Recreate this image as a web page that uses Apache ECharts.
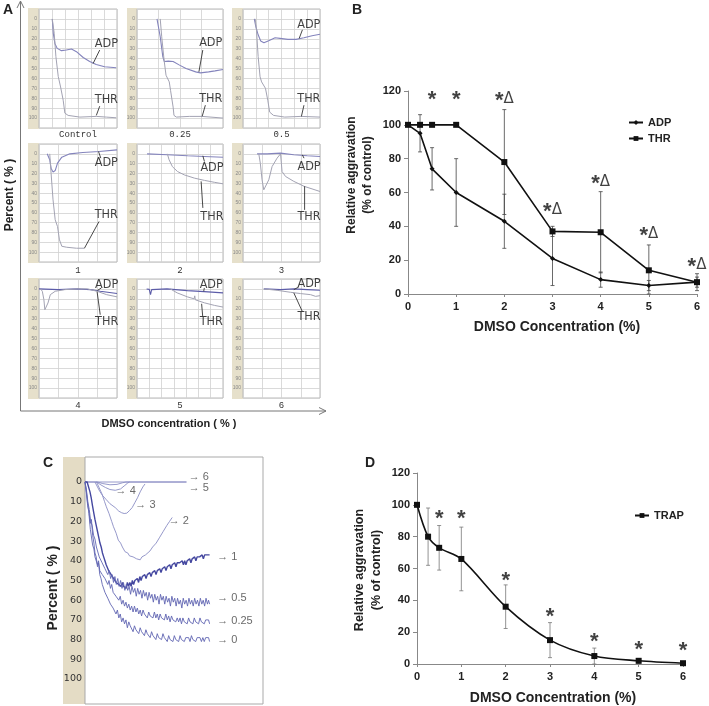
<!DOCTYPE html>
<html><head><meta charset="utf-8">
<script src="https://cdn.jsdelivr.net/npm/echarts@6/dist/echarts.min.js"></script>
<style>html,body{margin:0;padding:0;background:#fff}#c{width:709px;height:706px}</style>
</head><body><div id="c"></div>
<script>
// ================= DATA =================
// ---- Panel A: nine aggregation traces (x = grid column, y = percent) ----
const aNames = ['Control','0.25','0.5','1','2','3','4','5','6'];
const aCols = [6,4,6,4,7,4,4,7,4];
const aTicks = [0,10,20,30,40,50,60,70,80,90,100];

const aCtrlADP = [[1.02,0],[1.1,14.5],[1.22,24.7],[1.4,29.7],[1.73,32],[2.1,31.4],[2.5,30.4],[2.88,33],[3.4,38.9],[3.9,43],[4.4,46],[5.05,48.3],[5.94,49.3]];
const aCtrlTHR = [[1.02,0],[1.17,14.5],[1.3,38],[1.48,58],[1.66,68.6],[1.79,70],[1.86,82],[1.99,95],[2.24,97.3],[3.14,99],[4.41,98.3],[5.18,99],[5.94,99.7]];
const aCtrlLab = [[5.18,24.7],[5.18,82]];
const aCtrlLead = [[[4.67,31.4],[4.16,45]],[[4.67,88],[4.41,97.3]]];

const a025ADP = [[0.93,0],[1.08,18],[1.2,38],[1.27,43],[1.45,42.6],[1.68,43],[1.98,46.6],[2.28,50],[2.73,53.4],[2.95,54.4],[3.33,53.4],[3.63,52.4],[4,51]];
const a025THR = [[1.08,0],[1.15,18],[1.26,41.6],[1.35,56.8],[1.5,63.5],[1.56,72],[1.68,88.9],[1.72,97.3],[1.83,99],[2.43,98.3],[3.03,98.3],[4,100]];
const a025Lab = [[3.43,24],[3.43,81]];
const a025Lead = [[[3.06,31.4],[2.88,53.4]],[[3.18,87],[3.03,98.3]]];

const a05ADP = [[0.88,0],[1,7.8],[1.18,16],[1.38,22.3],[1.63,24],[2,22],[2.5,19],[2.88,19.6],[3.5,20.6],[4.13,20.6],[4.75,19],[5.38,17],[6,15.5]];
const a05THR = [[0.95,0],[1.05,11],[1.18,38],[1.33,58.4],[1.45,63.5],[1.75,70],[1.93,82],[2.08,94],[2.38,97.3],[3.25,99],[4.5,98.3],[6,99]];
const a05Lab = [[5.13,6],[5.13,81]];
const a05Lead = [[[4.63,11],[4.38,19.6]],[[4.75,87],[4.55,98.3]]];

const a1ADP = [[0.42,0],[0.55,6],[0.62,14.6],[0.72,18.6],[0.83,17],[0.95,9.5],[1.17,3.4],[1.58,0],[2.25,-1.4],[3.08,-2.4],[4,-4]];
const a1THR = [[0.55,0],[0.62,19.7],[0.72,46.8],[0.83,67],[0.95,74],[1.05,87.5],[1.17,94],[1.42,95],[1.92,96],[2.33,96]];
const a1Lab = [[3.45,9.5],[3.45,62]];
const a1Lead = [[[3.17,4.4],[3.05,-2.4]],[[3.08,68.8],[2.33,96]]];

const a2ADP = [[0.82,0],[2.47,1],[4.12,2],[5.49,2.7],[7,3.4]];
const a2THR = [[2.47,0],[2.61,6],[2.88,13],[3.3,18],[3.85,21.4],[4.67,24.7],[5.49,27],[6.32,29],[7,30.5]];
const a2Lab = [[6.1,14.6],[6.1,64.4]];
const a2Lead = [[[5.49,7.8],[5.36,2]],[[5.36,55],[5.22,28]]];

const a3ADP = [[0.73,0],[1.25,0],[1.95,-0.7],[2.64,1],[3.34,2],[4,2.7]];
const a3THR = [[0.82,0],[0.9,9.5],[0.99,26.4],[1.08,36.6],[1.17,38.3],[1.34,26.4],[1.51,13],[1.77,4.4],[1.95,0],[2.03,18],[2.21,23],[2.64,28],[3.17,33],[4,38.3]];
const a3Lab = [[3.43,13],[3.43,64.4]];
const a3Lead = [[[3.17,4.4],[3.08,1]],[[3.2,57],[3.2,33]]];

const a4ADP = [[0,0],[0.99,0.7],[1.98,0],[2.64,0.7],[3.14,2.4],[4,4.7]];
const a4THR = [[0.08,0],[0.17,2.4],[0.25,10.8],[0.3,21],[0.36,22.7],[0.46,14.2],[0.58,5.8],[0.83,2.4],[1.32,0.7],[1.98,0],[2.48,0],[2.98,2.4],[3.47,5.8],[4,8]];
const a4Lab = [[3.47,-4.4],[3.47,33]];
const a4Lead = [[[3.2,-1],[3.0,1.5]],[[3.14,26],[2.98,3]]];

const a5ADP = [[0.78,0],[1,0.5],[1.1,5.8],[1.19,0.7],[2.44,0],[4.1,1.7],[5.48,2.7],[7,4]];
const a5THR = [[2.71,0],[3.27,4],[4.1,8],[4.65,10],[4.7,7],[4.75,11],[5.48,14],[6.3,16.6],[7,18.3]];
const a5Lab = [[6.04,-4.4],[6.04,33]];
const a5Lead = [[[5.48,-1],[5.43,2.4]],[[5.35,28],[5.26,15]]];

const a6ADP = [[1.08,0],[1.95,0.7],[2.64,0],[3.34,0.7],[4,1.4]];
const a6THR = [[1.08,0],[1.77,1.4],[2.47,3.4],[2.99,4.7],[3.51,5.8],[3.77,7.5],[4,6.8]];
const a6Lab = [[3.43,-5.4],[3.43,27.8]];
const a6Lead = [[[2.9,-2],[2.64,0.7]],[[3.08,22.7],[2.64,4]]];

// ---- Panel B ----
const bX = [0,0.25,0.5,1,2,3,4,5,6];
const bADP = [100,95,74,60,43,21,8.5,5,7];
const bADPErr = [0,11,12.5,20,16,16,4.5,3,3];
const bTHR = [100,100,100,100,78,37,36.5,14,7];
const bTHRErr = [0,0,0,0,31,3,24,15,5];
const bMarkX = [0.5,1,2,3,4,5,6];
const bMarkY = [117.5,117.5,116.5,51,67.6,37,18.6];
const bMarkTxt = ['*','*','*Δ','*Δ','*Δ','*Δ','*Δ'];

// ---- Panel C: traces per concentration (x = time units, y = percent) ----
const cNames = ['6','5','4','3','2','1','0.5','0.25','0'];
const c6 = [[0,0],[57,0]];
const c5 = [[0,0],[7,0],[10,0.8],[14,1.4],[18,1.2],[21,0.4],[23,0],[57,0]];
const c4 = [[6.5,0],[9,1.5],[11.5,2.8],[14,3.8],[17,4.2],[20,3.5],[22,2],[24,0.5],[25,0]];
const c3 = [[5.6,0],[7,2.5],[8.4,4.9],[10,7],[12,9],[14,11],[17,13],[19,14.8],[20.6,15.6],[22,16],[23.5,15.8],[25,14.5],[26.5,13],[28,10.5],[29.5,8],[31,5],[32.5,2.5],[33.7,1]];
const c2 = [[6.5,0],[8,3],[9.5,6],[11,10],[12,12.6],[13.5,16],[15,20],[16,22.7],[17.5,26],[18.7,29.5],[20,31],[21,33],[22.5,35.4],[24,36],[25,37.5],[26,36.5],[27,38],[28,37],[29,39],[30,38],[31,39.5],[32,38],[33,38.5],[34,37],[35,36.5],[36.5,35],[38,33],[40,31],[42,28],[44,25],[46,22],[47.5,20],[49,18]];
const c1 = [[0,0],[1.2,0],[2,1],[2.8,5],[3.5,8],[4.2,12],[5,16],[5.6,19],[6.3,22],[7,25],[7.7,28],[8.4,31],[9.1,33],[9.8,36],[10.5,38],[11.2,40],[11.9,42],[12.6,43],[13.3,45],[14,45],[14.7,47],[15.4,47],[16.1,49],[16.8,49],[17.5,51],[18.2,50],[18.9,52],[19.6,51],[20.3,53],[21,51],[21.7,53],[22.4,52],[23.1,54],[23.8,51],[24.5,53],[25.2,51],[25.9,53],[26.6,50],[27.3,52],[28,50],[28.7,51],[29.4,49],[30.1,51],[30.8,48],[31.5,50],[32.2,48],[32.9,49],[33.6,47],[34.3,49],[35,47],[35.7,48],[36.4,46],[37.1,48],[37.8,46],[38.5,47],[39.2,45],[39.9,47],[40.6,45],[41.3,46],[42,44],[42.7,46],[43.4,44],[44.1,45],[44.8,43],[45.5,45],[46.2,43],[46.9,44],[47.6,42],[48.3,44],[49,42],[49.7,43],[50.4,41],[51.1,43],[51.8,41],[52.5,42],[53.2,41],[53.9,42],[54.6,40],[55.3,42],[56,40],[56.7,42],[57.4,40],[58.1,41],[58.8,39],[59.5,41],[60.2,39],[60.9,40],[61.6,38],[62.3,40],[63,38],[63.7,39],[64.4,38],[65.1,39],[65.8,37],[66.5,39],[67.2,37],[67.9,38],[68.6,37],[69.3,38],[70,37]];
const c05 = [[0,0],[0.8,4],[1.6,10],[2.4,14],[3.2,20],[4,22],[4.8,27],[5.6,29],[6.4,33],[7.2,34],[8,38],[8.8,37],[9.6,41],[10.4,40],[11.2,44],[12,43],[12.8,47],[13.6,45],[14.4,49],[15.2,47],[16,51],[16.8,48],[17.6,52],[18.4,49],[19.2,53],[20,50],[20.8,54],[21.6,51],[22.4,55],[23.2,52],[24,55],[24.8,53],[25.6,57],[26.4,53],[27.2,56],[28,54],[28.8,58],[29.6,54],[30.4,57],[31.2,55],[32,59],[32.8,55],[33.6,58],[34.4,56],[35.2,60],[36,56],[36.8,59],[37.6,57],[38.4,61],[39.2,57],[40,60],[40.8,58],[41.6,62],[42.4,57],[43.2,60],[44,58],[44.8,62],[45.6,58],[46.4,61],[47.2,59],[48,63],[48.8,58],[49.6,61],[50.4,59],[51.2,63],[52,59],[52.8,62],[53.6,60],[54.4,64],[55.2,59],[56,62],[56.8,60],[57.6,63],[58.4,59],[59.2,62],[60,60],[60.8,63],[61.6,59],[62.4,62],[63.2,60],[64,63],[64.8,59],[65.6,62],[66.4,60],[67.2,63],[68,59],[68.8,62],[69.4,60],[70,62]];
const c025 = [[0,0],[0.8,5],[1.5,11],[2.2,16],[3,24],[3.6,23],[4.3,32],[5,34],[5.6,38],[6.3,37],[7,42],[7.6,40],[8.3,45],[9,44],[9.7,47],[10.4,46],[11.2,49],[12,48],[12.8,52],[13.5,50],[14.3,54],[15,52],[15.8,56],[16.6,55],[17.4,58],[18.2,57],[19,60],[19.8,58],[20.6,62],[21.4,60],[22.2,63],[23,61],[23.8,64],[24.6,62],[25.4,65],[26.2,63],[27,66],[27.8,63],[28.6,66],[29.4,64],[30.2,67],[31,65],[31.8,68],[32.6,65],[33.4,67],[34.2,66],[35,69],[35.8,66],[36.6,68],[37.4,67],[38.2,69],[39,66],[39.8,69],[40.6,67],[41.4,70],[42.2,67],[43,69],[43.8,68],[44.6,70],[45.4,67],[46.2,70],[47,68],[47.8,71],[48.6,68],[49.4,70],[50.2,69],[51,71],[51.8,69],[52.6,71],[53.4,69],[54.2,72],[55,69],[55.8,71],[56.6,70],[57.4,72],[58.2,69],[59,71],[59.8,70],[60.6,72],[61.4,69],[62.2,71],[63,70],[63.8,72],[64.6,69],[65.4,71],[66.2,70],[67,72],[67.8,70],[68.6,71],[69.4,70],[70,72]];
const c0 = [[0,0],[0.8,6],[1.5,12],[2.2,15],[3,21],[3.6,19],[4.3,27],[5,31],[5.6,36],[6.3,38],[7,43],[7.6,41],[8.3,47],[9,49],[9.7,52],[10.4,51],[11.2,56],[12,55],[12.8,59],[13.5,58],[14.3,62],[15,61],[15.8,64],[16.6,63],[17.4,67],[18.2,65],[19,69],[19.8,67],[20.6,71],[21.4,69],[22.2,72],[23,70],[23.8,74],[24.6,71],[25.4,73],[26.2,72],[27,76],[27.8,73],[28.6,75],[29.4,74],[30.2,77],[31,74],[31.8,76],[32.6,75],[33.4,78],[34.2,75],[35,77],[35.8,76],[36.6,79],[37.4,76],[38.2,78],[39,77],[39.8,80],[40.6,77],[41.4,79],[42.2,78],[43,80],[43.8,77],[44.6,79],[45.4,78],[46.2,81],[47,78],[47.8,80],[48.6,79],[49.4,81],[50.2,78],[51,80],[51.8,79],[52.6,81],[53.4,78],[54.2,80],[55,79],[55.8,81],[56.6,79],[57.4,80],[58.2,79],[59,81],[59.8,78],[60.6,80],[61.4,79],[62.2,81],[63,79],[63.8,80],[64.6,79],[65.4,81],[66.2,79],[67,81],[67.8,79],[68.6,80],[69.4,79],[70,81]];
const cLabX = [58,58,16.9,28,46.8,74,74,74,74];
const cLabY = [-2.4,3.2,4.4,11.7,19.8,37.8,59,70.7,80];
const cTicks = [0,10,20,30,40,50,60,70,80,90,100];

// ---- Panel D ----
const dX = [0,0.25,0.5,1,2,3,4,5,6];
const dTRAP = [100,80,73,66,36,15,5,2,0.5];
const dErr = [0,18,14,20,13.7,11,5,1.5,0.5];
const dStarX = [0.5,1,2,3,4,5,6];
const dStarY = [94,94,55,32.7,16.7,11.5,11];

// ================= BUILD =================
const BOLD = 'Liberation Sans, Arial, sans-serif';
const NARROW = '"Liberation Sans Narrow","DejaVu Sans Condensed","Arial Narrow",sans-serif';
const grids=[], xAxes=[], yAxes=[], series=[], graphics=[];

const aData = [
  [aCtrlADP,aCtrlTHR,aCtrlLab,aCtrlLead],[a025ADP,a025THR,a025Lab,a025Lead],[a05ADP,a05THR,a05Lab,a05Lead],
  [a1ADP,a1THR,a1Lab,a1Lead],[a2ADP,a2THR,a2Lab,a2Lead],[a3ADP,a3THR,a3Lab,a3Lead],
  [a4ADP,a4THR,a4Lab,a4Lead],[a5ADP,a5THR,a5Lab,a5Lead],[a6ADP,a6THR,a6Lab,a6Lead]];
const aColLeft=[39,137,243], aColW=[78,86,77], aStripW=[11,10,11];
const aRowTop=[9,144,279], aRowH=[119,118,119], aNameY=[135,271,406];

aData.forEach((d,i)=>{
  const r=Math.floor(i/3), c=i%3;
  grids.push({left:aColLeft[c], top:aRowTop[r], width:aColW[c], height:aRowH[r], show:true, borderColor:'#b9b9b9', borderWidth:1, backgroundColor:'#fff'});
  xAxes.push({gridIndex:i, type:'value', min:0, max:aCols[i], interval:1, axisLine:{show:false}, axisTick:{show:false}, axisLabel:{show:false}, splitLine:{show:true, lineStyle:{color:'#d0d0d0', width:0.8}}});
  yAxes.push({gridIndex:i, type:'value', inverse:true, min:-10, max:110, interval:10, axisLine:{show:false}, axisTick:{show:false},
    axisLabel:{fontSize:5, color:'#888', margin:2, formatter:v=> aTicks.indexOf(v)>=0 ? String(v) : ''},
    splitLine:{show:true, lineStyle:{color:'#d0d0d0', width:0.8}}});
  graphics.push({type:'rect', z:-1, shape:{x:aColLeft[c]-aStripW[c], y:aRowTop[r]-1, width:aStripW[c], height:aRowH[r]+2}, style:{fill:'#e6e0cb'}});
  graphics.push({type:'text', x:aColLeft[c]+aColW[c]/2, y:aNameY[r], style:{text:aNames[i], font:'9px "Liberation Mono", monospace', fill:'#333', textAlign:'center', textVerticalAlign:'middle'}});
  const adpCol = r===2 ? '#5c5ca8' : '#8484bc';
  series.push({type:'line', name:'a'+i, xAxisIndex:i, yAxisIndex:i, data:d[0], symbol:'none', silent:true, lineStyle:{color:adpCol, width:1.1}});
  series.push({type:'line', name:'t'+i, xAxisIndex:i, yAxisIndex:i, data:d[1], symbol:'none', silent:true, lineStyle:{color:'#a3a3b3', width:1}});
  d[3].forEach(ld=>series.push({type:'line', xAxisIndex:i, yAxisIndex:i, data:ld, symbol:'none', silent:true, lineStyle:{color:'#333', width:0.9}}));
  series.push({type:'scatter', xAxisIndex:i, yAxisIndex:i, symbolSize:1, itemStyle:{color:'transparent'}, silent:true,
    data:[{value:d[2][0], name:'ADP'},{value:d[2][1], name:'THR'}],
    label:{show:true, position:'inside', formatter:'{b}', fontSize:12.5, color:'#111', fontFamily:NARROW}});
});

// error-bar renderer (custom series through the axis scales)
function errBar(color){
  return function(params, api){
    const x=api.value(0), y=api.value(1), e=api.value(2);
    if(!e) return {type:'group', children:[]};
    const hi=api.coord([x,y+e]), lo=api.coord([x,Math.max(0,y-e)]), w=2;
    const st={stroke:color, lineWidth:0.8};
    return {type:'group', children:[
      {type:'line', shape:{x1:hi[0],y1:hi[1],x2:lo[0],y2:lo[1]}, style:st},
      {type:'line', shape:{x1:hi[0]-w,y1:hi[1],x2:hi[0]+w,y2:hi[1]}, style:st},
      {type:'line', shape:{x1:lo[0]-w,y1:lo[1],x2:lo[0]+w,y2:lo[1]}, style:st}]};
  };
}
function chartAxes(gi, ymax){
  xAxes.push({gridIndex:gi, type:'value', min:0, max:6, interval:1,
    axisLine:{show:true, onZero:false, lineStyle:{color:'#888', width:1}}, axisTick:{show:true, length:3, lineStyle:{color:'#888'}},
    axisLabel:{fontSize:11, fontWeight:'bold', color:'#222', fontFamily:BOLD, margin:7}, splitLine:{show:false}});
  yAxes.push({gridIndex:gi, type:'value', min:0, max:ymax, interval:20,
    axisLine:{show:true, lineStyle:{color:'#888', width:1}}, axisTick:{show:true, length:4, lineStyle:{color:'#888'}},
    axisLabel:{fontSize:11, fontWeight:'bold', color:'#222', fontFamily:BOLD, margin:7}, splitLine:{show:false}});
}
const starRich = {s:{fontSize:22, fontWeight:'bold', fontFamily:BOLD, color:'#111', padding:[9,0,0,0]}, d:{fontSize:15, fontFamily:'DejaVu Sans', color:'#111', padding:[5,0,0,0]}};

// ---- Panel B (grid 9) ----
grids.push({left:408, top:91, width:289, height:203});
chartAxes(9,120);
series.push({type:'custom', xAxisIndex:9, yAxisIndex:9, silent:true, renderItem:errBar('#444'), encode:{x:0,y:1}, data:bX.map((x,i)=>[x,bADP[i],bADPErr[i]]), z:1});
series.push({type:'custom', xAxisIndex:9, yAxisIndex:9, silent:true, renderItem:errBar('#444'), encode:{x:0,y:1}, data:bX.map((x,i)=>[x,bTHR[i],bTHRErr[i]]), z:1});
series.push({type:'line', name:'ADP', xAxisIndex:9, yAxisIndex:9, data:bX.map((x,i)=>[x,bADP[i]]), symbol:'diamond', symbolSize:5, showAllSymbol:true, itemStyle:{color:'#111'}, lineStyle:{color:'#111', width:1.6}, z:3});
series.push({type:'line', name:'THR', xAxisIndex:9, yAxisIndex:9, data:bX.map((x,i)=>[x,bTHR[i]]), symbol:'rect', symbolSize:6, showAllSymbol:true, itemStyle:{color:'#111'}, lineStyle:{color:'#111', width:1.6}, z:3});
series.push({type:'scatter', xAxisIndex:9, yAxisIndex:9, symbolSize:1, itemStyle:{color:'transparent'}, silent:true,
  data:bMarkX.map((x,i)=>({value:[x,bMarkY[i]], name:bMarkTxt[i]})),
  label:{show:true, position:'inside', formatter:p=>p.name.split('').map(ch=>ch==='*'?'{s|*}':'{d|Δ}').join(''), rich:starRich}});

// ---- Panel C (grid 10) ----
grids.push({left:85, top:457, width:178, height:247, show:true, borderColor:'#a9a9a9', borderWidth:1, backgroundColor:'#fff'});
xAxes.push({gridIndex:10, type:'value', min:0, max:100, show:false});
yAxes.push({gridIndex:10, type:'value', inverse:true, min:-12.7, max:112.7, axisLine:{show:false}, axisTick:{show:false}, splitLine:{show:false},
  axisLabel:{customValues:cTicks, fontSize:9.5, color:'#333', fontFamily:'DejaVu Sans', margin:3}});
graphics.push({type:'rect', z:-1, shape:{x:63, y:457, width:22, height:247}, style:{fill:'#e4dcc5'}});
const cSets=[c6,c5,c4,c3,c2,c1,c05,c025,c0];
cSets.forEach((d,k)=>{
  const strong = k>=5;
  series.push({type:'line', xAxisIndex:10, yAxisIndex:10, data:d, symbol:'none', silent:true,
    lineStyle:{color: k===5 ? '#4548a0' : (strong ? '#6165b2' : '#8a8dc4'), width: k===5 ? 1.4 : 0.9}});
});
series.push({type:'scatter', xAxisIndex:10, yAxisIndex:10, symbolSize:1, itemStyle:{color:'transparent'}, silent:true,
  data:cNames.map((n,k)=>({value:[cLabX[k],cLabY[k]], name:n})),
  label:{show:true, position:'right', distance:0, formatter:p=>'→ '+p.name, fontSize:11, color:'#444', fontFamily:'Liberation Sans, Arial, sans-serif'}});

// ---- Panel D (grid 11) ----
grids.push({left:417, top:473, width:266, height:191});
chartAxes(11,120);
series.push({type:'custom', xAxisIndex:11, yAxisIndex:11, silent:true, renderItem:errBar('#777'), encode:{x:0,y:1}, data:dX.map((x,i)=>[x,dTRAP[i],dErr[i]]), z:1});
series.push({type:'line', name:'TRAP', xAxisIndex:11, yAxisIndex:11, data:dX.map((x,i)=>[x,dTRAP[i]]), smooth:0.3, symbol:'rect', symbolSize:6, showAllSymbol:true, itemStyle:{color:'#111'}, lineStyle:{color:'#111', width:1.6}, z:3});
series.push({type:'scatter', xAxisIndex:11, yAxisIndex:11, symbolSize:1, itemStyle:{color:'transparent'}, silent:true,
  data:dStarX.map((x,i)=>({value:[x,dStarY[i]], name:'*'})),
  label:{show:true, position:'inside', formatter:'{s|*}', rich:starRich}});

// ---- graphics: panel letters, titles, arrows ----
const T=(x,y,text,font,rot,align)=>({type:'text', x, y, rotation:rot||0, style:{text, font, fill:'#222', textAlign:align||'center', textVerticalAlign:'middle'}});
graphics.push(
  T(8,10,'A','bold 14px '+BOLD), T(357,10,'B','bold 14px '+BOLD), T(48,463,'C','bold 14px '+BOLD), T(370,463,'D','bold 14px '+BOLD),
  T(10,195,'Percent ( % )','bold 12px '+BOLD,Math.PI/2), T(169,424,'DMSO concentration ( % )','bold 11px '+BOLD),
  T(352,175,'Relative aggravation','bold 12px '+BOLD,Math.PI/2), T(368,175,'(% of control)','bold 12px '+BOLD,Math.PI/2),
  T(557,327,'DMSO Concentration (%)','bold 14px '+BOLD),
  T(53,588,'Percent ( % )','bold 14px '+BOLD,Math.PI/2),
  T(360,570,'Relative aggravation','bold 12.5px '+BOLD,Math.PI/2), T(377,570,'(% of control)','bold 12.5px '+BOLD,Math.PI/2),
  T(553,698,'DMSO Concentration (%)','bold 14px '+BOLD),
  {type:'line', shape:{x1:20.5,y1:411,x2:20.5,y2:1}, style:{stroke:'#777', lineWidth:1}},
  {type:'polyline', shape:{points:[[17,8],[20.5,1],[24,8]]}, style:{stroke:'#777', lineWidth:1, fill:null}},
  {type:'line', shape:{x1:20.5,y1:411,x2:326,y2:411}, style:{stroke:'#777', lineWidth:1}},
  {type:'polyline', shape:{points:[[319,407.5],[326,411],[319,414.5]]}, style:{stroke:'#777', lineWidth:1, fill:null}}
);

const chart = echarts.init(document.getElementById('c'), null, {renderer:'canvas'});
chart.setOption({
  animation:false, backgroundColor:'#fff',
  grid:grids, xAxis:xAxes, yAxis:yAxes, series,
  legend:[
    {data:['ADP','THR'], left:628, top:117, orient:'vertical', itemWidth:14, itemHeight:6, itemGap:5, padding:0, selectedMode:false, textStyle:{fontSize:11, fontWeight:'bold', color:'#222', fontFamily:BOLD}},
    {data:['TRAP'], left:634, top:510, orient:'vertical', itemWidth:14, itemHeight:6, padding:0, selectedMode:false, textStyle:{fontSize:11, fontWeight:'bold', color:'#222', fontFamily:BOLD}}
  ],
  graphic:graphics
});
</script></body></html>
